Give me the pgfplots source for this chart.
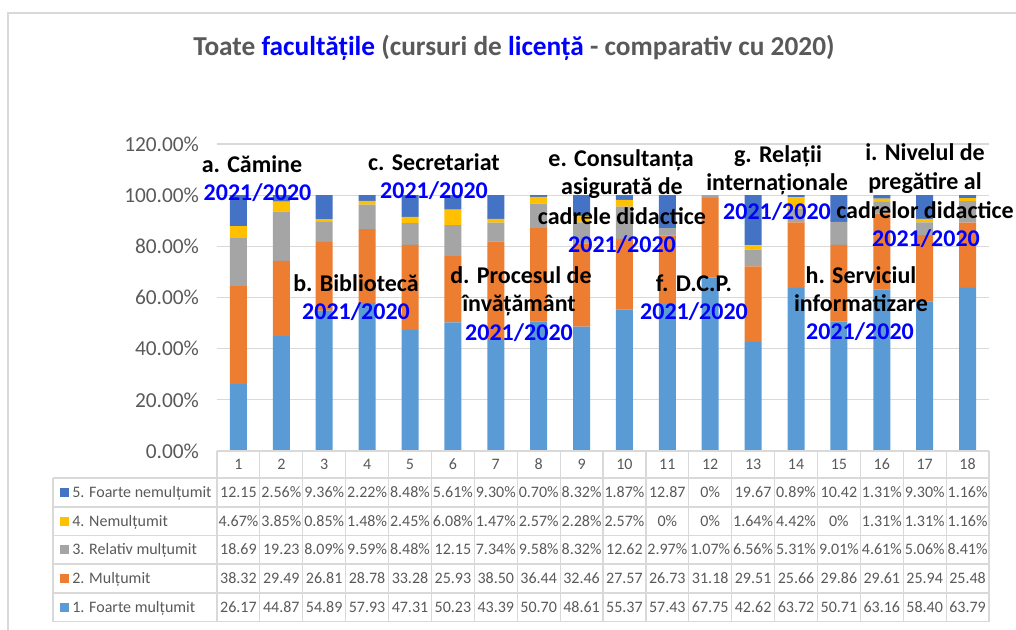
\documentclass[border=0pt]{standalone}
\usepackage{fontspec}
\setmainfont{Carlito}
\usepackage{pgfplots}
\pgfplotsset{compat=1.18}
\usepackage{pgfplotstable}
\definecolor{cA}{HTML}{5B9BD5}
\definecolor{cB}{HTML}{ED7D31}
\definecolor{cC}{HTML}{A5A5A5}
\definecolor{cD}{HTML}{FFC000}
\definecolor{cE}{HTML}{4472C4}
\definecolor{txt}{HTML}{595959}
\definecolor{gridc}{HTML}{D9D9D9}
\definecolor{lblue}{HTML}{0000FF}

\pgfplotstableread{
x a b c d e
1 26.17 38.32 18.69 4.67 12.15
2 44.87 29.49 19.23 3.85 2.56
3 54.89 26.81 8.09 0.85 9.36
4 57.93 28.78 9.59 1.48 2.22
5 47.31 33.28 8.48 2.45 8.48
6 50.23 25.93 12.15 6.08 5.61
7 43.39 38.50 7.34 1.47 9.30
8 50.70 36.44 9.58 2.57 0.70
9 48.61 32.46 8.32 2.28 8.32
10 55.37 27.57 12.62 2.57 1.87
11 57.43 26.73 2.97 0 12.87
12 67.75 31.18 1.07 0 0
13 42.62 29.51 6.56 1.64 19.67
14 63.72 25.66 5.31 4.42 0.89
15 50.71 29.86 9.01 0 10.42
16 63.16 29.61 4.61 1.31 1.31
17 58.40 25.94 5.06 1.31 9.30
18 63.79 25.48 8.41 1.16 1.16
}\data

\newcommand\annfont{\fontsize{18}{21}\selectfont\bfseries}
\newcommand\titfont{\fontsize{20.5}{24}\selectfont\bfseries}
\newcommand\tabfont{\fontsize{12}{14}\selectfont}

\begin{document}
\begin{tikzpicture}
\useasboundingbox (0pt,0pt) rectangle (762pt,-472.5pt);
\begin{axis}[
  at={(162.75pt,-338.25pt)}, anchor=south west,
  scale only axis, width=579pt, height=230.25pt,
  xmin=0.5, xmax=18.5, ymin=0, ymax=120,
  ybar stacked, bar width=12.75pt,
  xtick=\empty,
  ytick={0,20,...,120},
  yticklabels={0.00\%,20.00\%,40.00\%,60.00\%,80.00\%,100.00\%,120.00\%},
  ymajorgrids, major grid style={gridc, line width=0.9pt},
  axis line style={draw=none},
  major tick length=0pt,
  yticklabel style={font=\fontsize{16}{19}\selectfont, text=txt, xshift=-10pt},
  clip=false,
]
\addplot[fill=cA, draw=none] table[x=x,y=a]{\data};
\addplot[fill=cB, draw=none] table[x=x,y=b]{\data};
\addplot[fill=cC, draw=none] table[x=x,y=c]{\data};
\addplot[fill=cD, draw=none] table[x=x,y=d]{\data};
\addplot[fill=cE, draw=none] table[x=x,y=e]{\data};
\end{axis}

\begin{scope}[x=0.75pt,y=-0.75pt]
% frame
\draw[gridc, line width=1pt] (8,630) -- (8,13) -- (1016,13);
% title
\node[anchor=base, font=\titfont, text=txt] at (514,56) {Toate \textcolor{lblue}{facultățile} (cursuri de \textcolor{lblue}{licență} - comparativ cu 2020)};
% table lines
\draw[gridc, line width=0.9pt] (217,451) -- (989,451);
\foreach \y in {478,507,535.5,564,593,621.5} \draw[gridc, line width=0.9pt] (53,\y) -- (989,\y);
\draw[gridc, line width=0.9pt] (53,478) -- (53,621.5);
\foreach \k in {0,...,18} \draw[gridc, line width=0.9pt] (217+\k*42.889,451) -- (217+\k*42.889,621.5);
% header numbers
\foreach \i in {1,...,18} \node[anchor=base, font=\tabfont, text=txt, inner sep=0pt] at (217+\i*42.889-21.444,469.5) {\i};
% legend
\fill[cE] (60,488) rectangle (69,497);
\fill[cD] (60,516.75) rectangle (69,525.75);
\fill[cC] (60,545.25) rectangle (69,554.25);
\fill[cB] (60,574) rectangle (69,583);
\fill[cA] (60,602.75) rectangle (69,611.75);
\node[anchor=base west, font=\tabfont, text=txt, inner sep=0pt] at (72,497.5) {5. Foarte nemulțumit};
\node[anchor=base west, font=\tabfont, text=txt, inner sep=0pt] at (72,526.25) {4. Nemulțumit};
\node[anchor=base west, font=\tabfont, text=txt, inner sep=0pt] at (72,554.75) {3. Relativ mulțumit};
\node[anchor=base west, font=\tabfont, text=txt, inner sep=0pt] at (72,583.5) {2. Mulțumit};
\node[anchor=base west, font=\tabfont, text=txt, inner sep=0pt] at (72,612.25) {1. Foarte mulțumit};
% table values
\foreach \v [count=\i] in {12.15,2.56\%,9.36\%,2.22\%,8.48\%,5.61\%,9.30\%,0.70\%,8.32\%,1.87\%,12.87,0\%,19.67,0.89\%,10.42,1.31\%,9.30\%,1.16\%}
  \node[anchor=base, font=\tabfont, text=txt, inner sep=0pt] at (217+\i*42.889-21.444,497.5) {\v};
\foreach \v [count=\i] in {4.67\%,3.85\%,0.85\%,1.48\%,2.45\%,6.08\%,1.47\%,2.57\%,2.28\%,2.57\%,0\%,0\%,1.64\%,4.42\%,0\%,1.31\%,1.31\%,1.16\%}
  \node[anchor=base, font=\tabfont, text=txt, inner sep=0pt] at (217+\i*42.889-21.444,526.25) {\v};
\foreach \v [count=\i] in {18.69,19.23,8.09\%,9.59\%,8.48\%,12.15,7.34\%,9.58\%,8.32\%,12.62,2.97\%,1.07\%,6.56\%,5.31\%,9.01\%,4.61\%,5.06\%,8.41\%}
  \node[anchor=base, font=\tabfont, text=txt, inner sep=0pt] at (217+\i*42.889-21.444,554.75) {\v};
\foreach \v [count=\i] in {38.32,29.49,26.81,28.78,33.28,25.93,38.50,36.44,32.46,27.57,26.73,31.18,29.51,25.66,29.86,29.61,25.94,25.48}
  \node[anchor=base, font=\tabfont, text=txt, inner sep=0pt] at (217+\i*42.889-21.444,583.5) {\v};
\foreach \v [count=\i] in {26.17,44.87,54.89,57.93,47.31,50.23,43.39,50.70,48.61,55.37,57.43,67.75,42.62,63.72,50.71,63.16,58.40,63.79}
  \node[anchor=base, font=\tabfont, text=txt, inner sep=0pt] at (217+\i*42.889-21.444,612.25) {\v};
% annotations
\tikzset{ann/.style={anchor=base, font=\annfont, inner sep=0pt}}
\node[ann] at (252,172.5) {a. Cămine};
\node[ann, text=lblue] at (257.5,200.5) {2021/2020};
\node[ann] at (434,170.5) {c. Secretariat};
\node[ann, text=lblue] at (434,198.5) {2021/2020};
\node[ann] at (356,291.5) {b. Bibliotecă};
\node[ann, text=lblue] at (356,319.5) {2021/2020};
\node[ann] at (521,283.5) {d. Procesul de};
\node[ann] at (519,311.5) {învățământ};
\node[ann, text=lblue] at (519,340.5) {2021/2020};
\node[ann] at (621,166.5) {e. Consultanța};
\node[ann] at (622,194.5) {asigurată de};
\node[ann] at (622,224.5) {cadrele didactice};
\node[ann, text=lblue] at (622,252.5) {2021/2020};
\node[ann] at (694,291.5) {f. D.C.P.};
\node[ann, text=lblue] at (694,319.5) {2021/2020};
\node[ann] at (778,162.5) {g. Relații};
\node[ann] at (777,190.5) {internaționale};
\node[ann, text=lblue] at (777,219.5) {2021/2020};
\node[ann] at (861,283.5) {h. Serviciul};
\node[ann] at (861,311.5) {informatizare};
\node[ann, text=lblue] at (860,339.5) {2021/2020};
\node[ann] at (925,160.5) {i. Nivelul de};
\node[ann] at (925,189.5) {pregătire al};
\node[ann] at (925,218.5) {cadrelor didactice};
\node[ann, text=lblue] at (926,246.5) {2021/2020};
\end{scope}
\end{tikzpicture}
\end{document}
